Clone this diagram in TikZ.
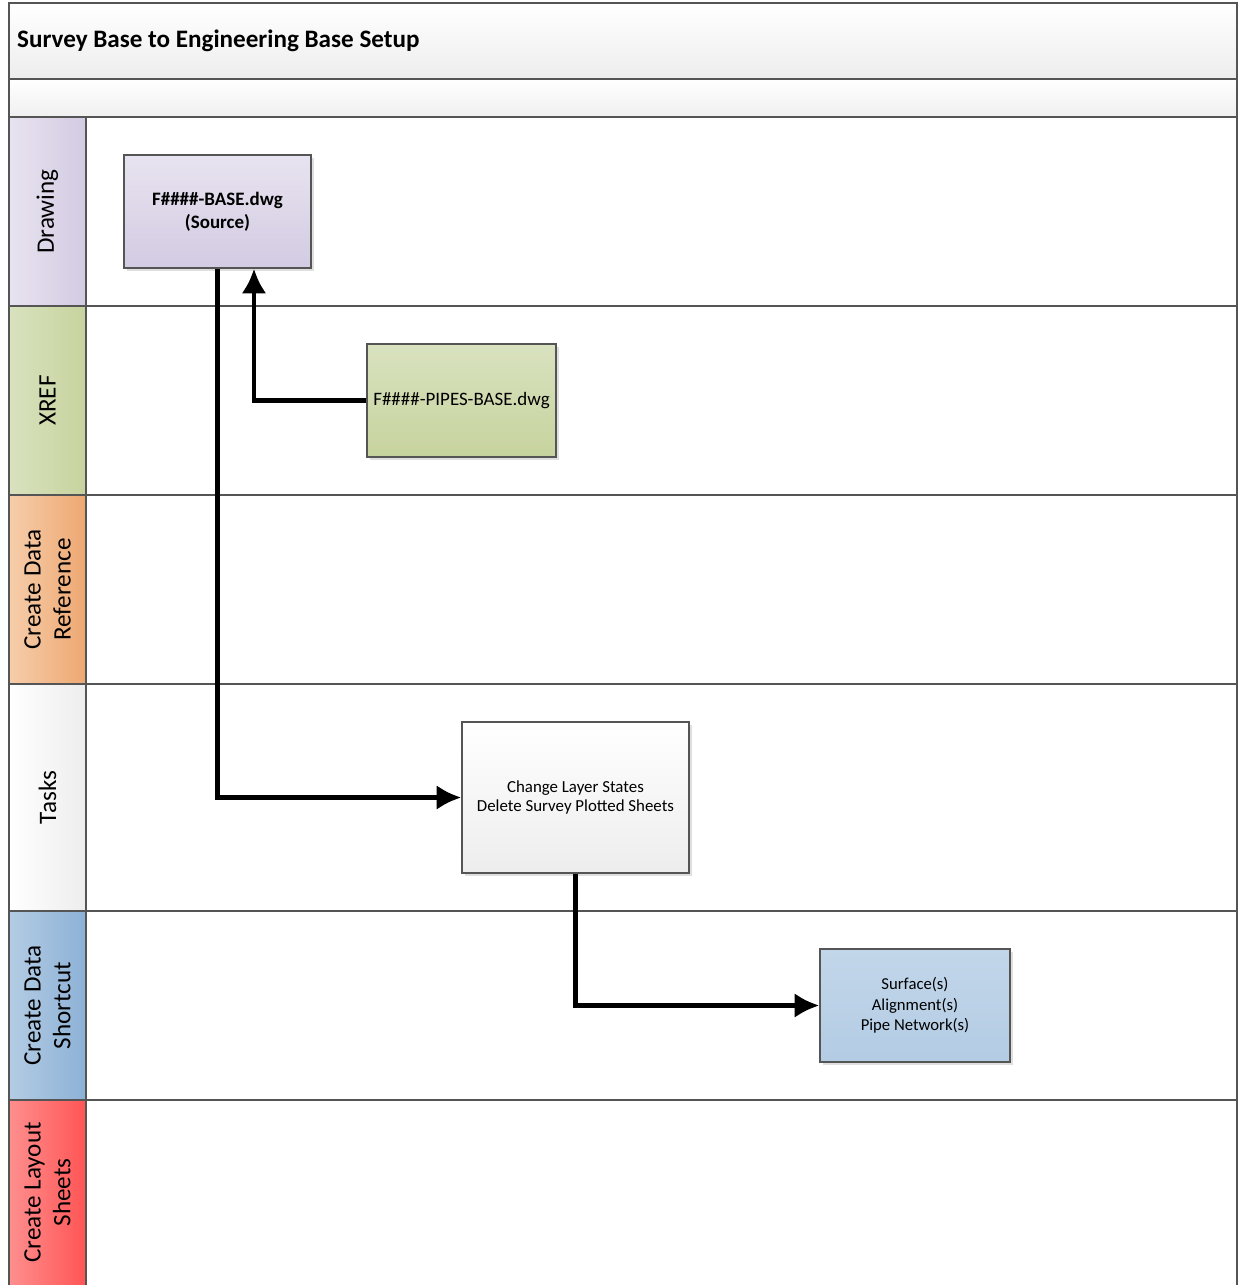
\documentclass[tikz,border=0pt]{standalone}
\usepackage{fontspec}
\setmainfont{Carlito}
\usetikzlibrary{arrows.meta,shadows}

\definecolor{drawL}{HTML}{E8E3F0}
\definecolor{drawR}{HTML}{D3CBE2}
\definecolor{xrefL}{HTML}{D9E2BF}
\definecolor{xrefR}{HTML}{C7D39E}
\definecolor{dataL}{HTML}{F6CDAA}
\definecolor{dataR}{HTML}{EEA872}
\definecolor{taskL}{HTML}{FFFFFF}
\definecolor{taskR}{HTML}{EDEDED}
\definecolor{cutL}{HTML}{B3CCE4}
\definecolor{cutR}{HTML}{8DB1D6}
\definecolor{sheetL}{HTML}{FF8E8E}
\definecolor{sheetR}{HTML}{FF5555}
\definecolor{frame}{HTML}{555555}

\tikzset{
  frameline/.style={draw=frame, line width=0.8pt},
  lanetext/.style={rotate=90, align=center, font=\fontsize{14.3}{17}\selectfont},
  stepbox/.style={draw=frame, line width=0.8pt, align=center,
    drop shadow={opacity=0.25, shadow xshift=1.5pt, shadow yshift=-1.5pt}},
  flow/.style={line width=2.6pt, -{Latex[length=14pt,width=14pt]}},
}

\begin{document}
\begin{tikzpicture}[x=0.02cm, y=-0.02cm]
    \useasboundingbox (0,0) rectangle (1238,1285);
    % title bands
    \shade[top color=white, bottom color=black!7] (9,3) rectangle (1237,79);
    \shade[top color=white, bottom color=black!6] (9,79) rectangle (1237,117);
    \node[anchor=west, font=\bfseries\fontsize{14.3}{17}\selectfont] (title) at (11,41) {Survey Base to Engineering Base Setup};
    %
    % lanes
    \foreach \ltop/\lbot/\lcolA/\lcolB/\ltxt [count=\i] in {
        117/306/drawL/drawR/{Drawing},
        306/495/xrefL/xrefR/{XREF},
        495/684/dataL/dataR/{Create Data\\Reference},
        684/911/taskL/taskR/{Tasks},
        911/1100/cutL/cutR/{Create Data\\Shortcut},
        1100/1285/sheetL/sheetR/{Create Layout\\Sheets}} {
      \shade[left color=\lcolA, right color=\lcolB] (9,\ltop) rectangle (86,\lbot);
      \node[lanetext] (lane\i) at (47.5,{(\ltop+\lbot)/2}) {\ltxt};
      \draw[frameline] (9,\ltop) -- (1237,\ltop);
    }
    % frame
    \draw[frameline] (9,1285) -- (9,3) -- (1237,3) -- (1237,1285);
    \draw[frameline] (9,79) -- (1237,79);
    \draw[frameline] (86,117) -- (86,1285);
    %
    % steps
    \node[stepbox, top color=drawL, bottom color=drawR, minimum width=3.74cm, minimum height=2.26cm,
      font=\bfseries\fontsize{10.8}{13}\selectfont] (base) at (217.5,211.5) {F\#\#\#\#-BASE.dwg\\(Source)};
    \node[stepbox, top color=xrefL, bottom color=xrefR, minimum width=3.78cm, minimum height=2.26cm,
      inner sep=1pt, font=\fontsize{10.8}{13}\selectfont] (pipes) at (461.5,400.5) {F\#\#\#\#-PIPES-BASE.dwg};
    \node[stepbox, top color=white, bottom color=taskR, minimum width=4.54cm, minimum height=3.02cm,
      font=\fontsize{9.6}{11.3}\selectfont] (tasks) at (575.5,797.5) {Change Layer States\\Delete Survey Plotted Sheets};
    \node[stepbox, top color=cutL!80, bottom color=cutL, minimum width=3.8cm, minimum height=2.26cm,
      font=\fontsize{9.5}{11.6}\selectfont] (shortcut) at (915,1005.5) {Surface(s)\\Alignment(s)\\Pipe Network(s)};
    %
    % connectors
    \draw[flow] (base.south) |- (tasks.west);
    \draw[flow] (pipes.west) -| ([xshift=0.73cm]base.south);
    \draw[flow] (tasks.south) |- (shortcut.west);
  \end{tikzpicture}
\end{document}
